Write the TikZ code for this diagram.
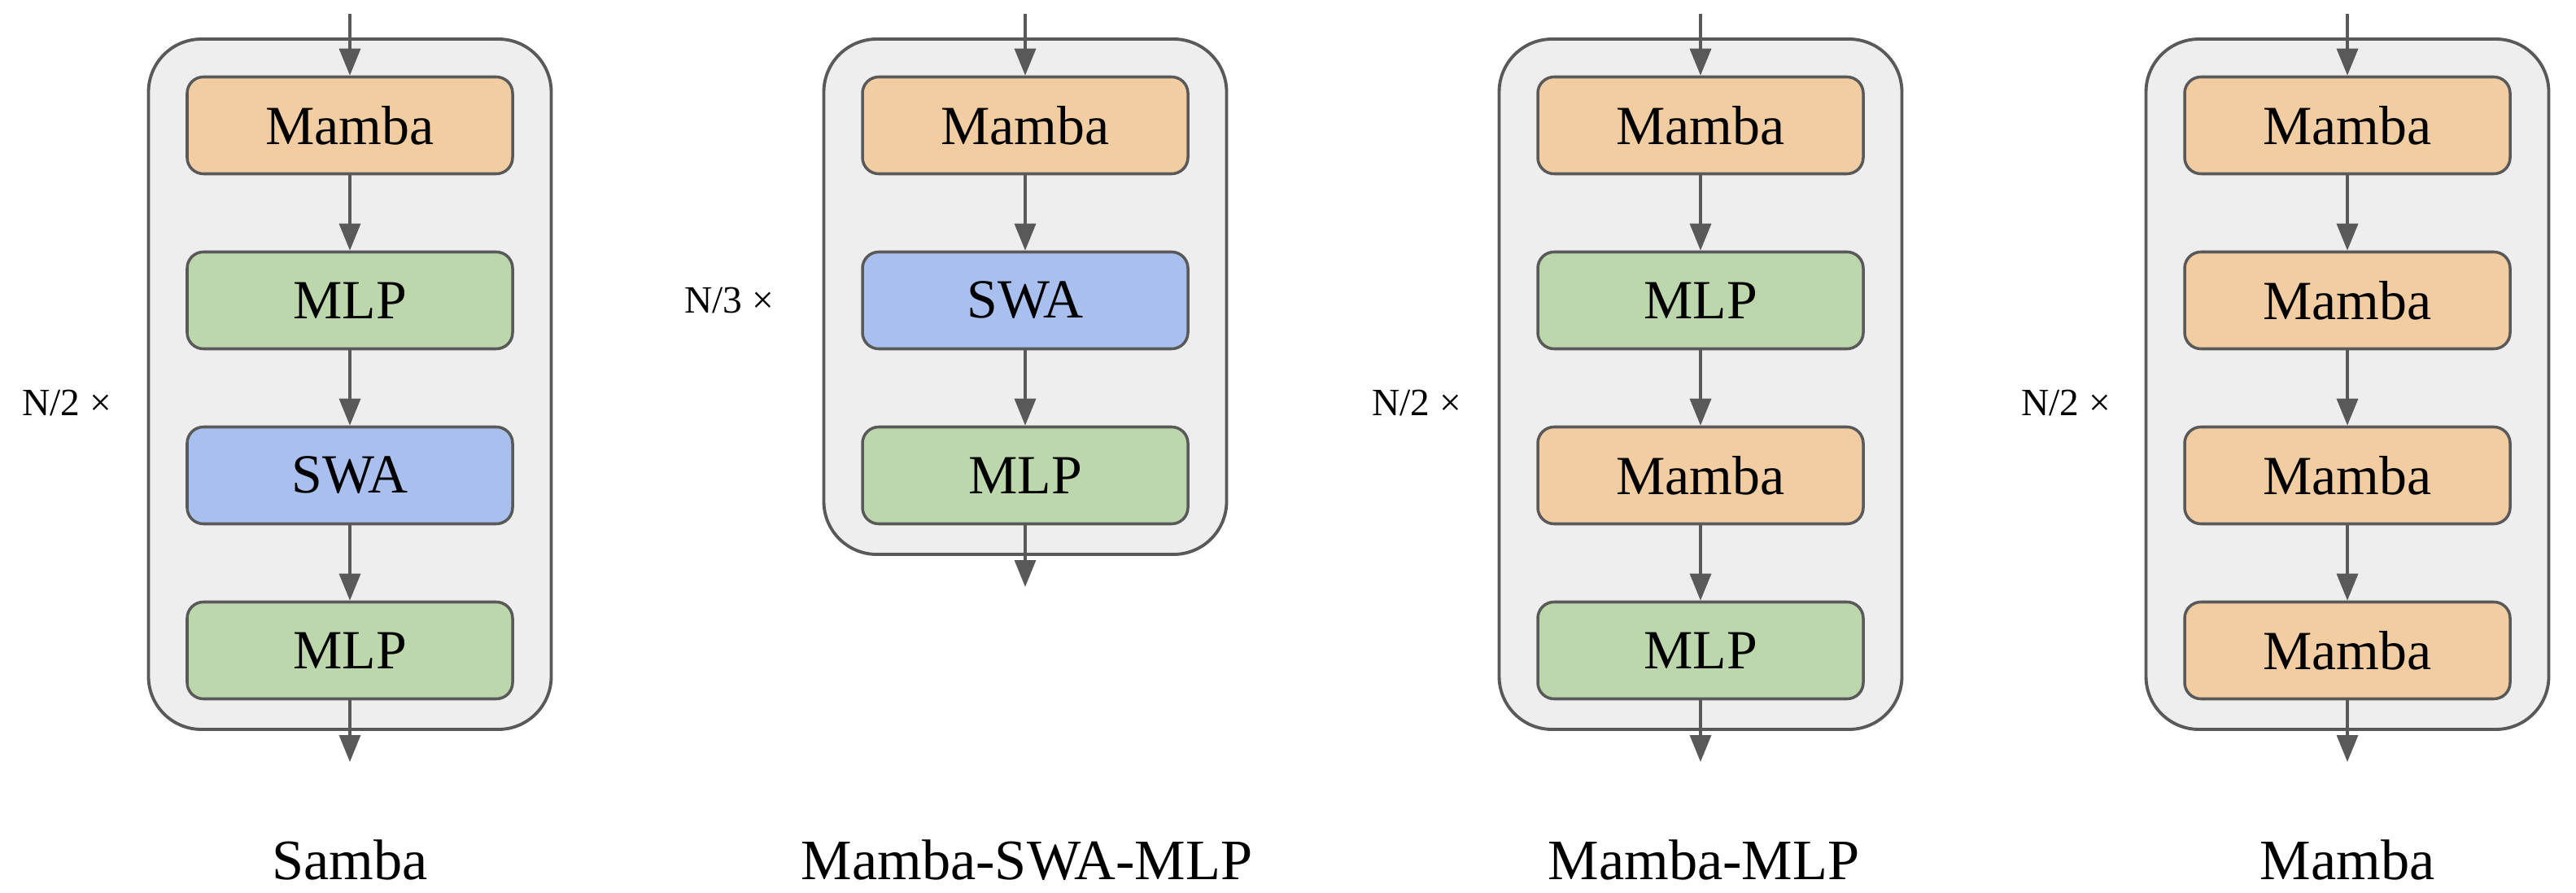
\documentclass[tikz,border=0pt]{standalone}
\usepackage{fontspec}
\setmainfont{Liberation Serif}
\usetikzlibrary{arrows.meta}

\definecolor{mambacol}{HTML}{F3CDA2}
\definecolor{mlpcol}{HTML}{BBD7AB}
\definecolor{swacol}{HTML}{A9C0EE}
\definecolor{stackcol}{HTML}{EEEEEE}
\definecolor{linecol}{HTML}{595959}

\tikzset{
	block/.style={draw=linecol, line width=1pt, rounded corners=0.2cm, minimum width=4cm, minimum height=1.19cm, inner sep=0pt, font=\fontsize{19.3}{22}\selectfont},
	mamba/.style={block, fill=mambacol},
	mlp/.style={block, fill=mlpcol},
	swa/.style={block, fill=swacol},
	stack/.style={draw=linecol, fill=stackcol, line width=1.1pt, rounded corners=0.65cm},
	flow/.style={draw=linecol, line width=0.95pt, -{Triangle[length=3.3mm,width=2.6mm]}},
	reps/.style={anchor=east, inner sep=0pt, font=\fontsize{13.5}{16}\selectfont},
	archname/.style={anchor=base, inner sep=0pt, font=\fontsize{20}{24}\selectfont},
}

\begin{document}
\begin{tikzpicture}
		\useasboundingbox (0, 0) rectangle (31.66, 10.96);
		%%%%% START %%%%%
		
		\draw[stack] (1.825, 2.00) rectangle (6.775, 10.48);
		\draw[stack] (10.125, 4.15) rectangle (15.075, 10.48);
		\draw[stack] (18.425, 2.00) rectangle (23.375, 10.48);
		\draw[stack] (26.375, 2.00) rectangle (31.325, 10.48);
		
		\node[mamba] (samba1) at (4.30, 9.42) {Mamba};
		\node[mlp] (samba2) at (4.30, 7.27) {MLP};
		\node[swa] (samba3) at (4.30, 5.12) {SWA};
		\node[mlp] (samba4) at (4.30, 2.97) {MLP};
		\coordinate (sambain) at (4.30, 10.79);
		\coordinate (sambaout) at (4.30, 1.60);
		\draw[flow] (sambain) -- (samba1.north);
		\draw[flow] (samba1) -- (samba2);
		\draw[flow] (samba2) -- (samba3);
		\draw[flow] (samba3) -- (samba4);
		\draw[flow] (samba4) -- (sambaout);
		\node[reps] (sambareps) at (1.38, 6.01) {N/2 ×};
		\node[archname] (sambaname) at (4.30, 0.16) {Samba};
		
		\node[mamba] (msm1) at (12.60, 9.42) {Mamba};
		\node[swa] (msm2) at (12.60, 7.27) {SWA};
		\node[mlp] (msm3) at (12.60, 5.12) {MLP};
		\coordinate (msmin) at (12.60, 10.79);
		\coordinate (msmout) at (12.60, 3.75);
		\draw[flow] (msmin) -- (msm1.north);
		\draw[flow] (msm1) -- (msm2);
		\draw[flow] (msm2) -- (msm3);
		\draw[flow] (msm3) -- (msmout);
		\node[reps] (msmreps) at (9.52, 7.27) {N/3 ×};
		\node[archname] (msmname) at (12.62, 0.16) {Mamba-SWA-MLP};
		
		\node[mamba] (mm1) at (20.90, 9.42) {Mamba};
		\node[mlp] (mm2) at (20.90, 7.27) {MLP};
		\node[mamba] (mm3) at (20.90, 5.12) {Mamba};
		\node[mlp] (mm4) at (20.90, 2.97) {MLP};
		\coordinate (mmin) at (20.90, 10.79);
		\coordinate (mmout) at (20.90, 1.60);
		\draw[flow] (mmin) -- (mm1.north);
		\draw[flow] (mm1) -- (mm2);
		\draw[flow] (mm2) -- (mm3);
		\draw[flow] (mm3) -- (mm4);
		\draw[flow] (mm4) -- (mmout);
		\node[reps] (mmreps) at (17.97, 6.01) {N/2 ×};
		\node[archname] (mmname) at (20.94, 0.16) {Mamba-MLP};
		
		\node[mamba] (m1) at (28.85, 9.42) {Mamba};
		\node[mamba] (m2) at (28.85, 7.27) {Mamba};
		\node[mamba] (m3) at (28.85, 5.12) {Mamba};
		\node[mamba] (m4) at (28.85, 2.97) {Mamba};
		\coordinate (min) at (28.85, 10.79);
		\coordinate (mout) at (28.85, 1.60);
		\draw[flow] (min) -- (m1.north);
		\draw[flow] (m1) -- (m2);
		\draw[flow] (m2) -- (m3);
		\draw[flow] (m3) -- (m4);
		\draw[flow] (m4) -- (mout);
		\node[reps] (mreps) at (25.95, 6.01) {N/2 ×};
		\node[archname] (mname) at (28.85, 0.16) {Mamba};
		
		%%%%% END %%%%%
\end{tikzpicture}
\end{document}
